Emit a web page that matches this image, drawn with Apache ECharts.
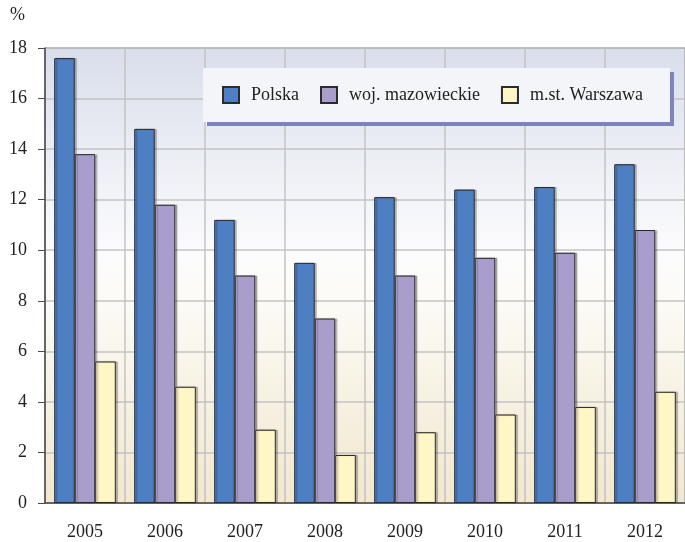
<!doctype html>
<html>
<head>
<meta charset="utf-8">
<title>Polska / woj. mazowieckie / m.st. Warszawa</title>
<script src="https://cdn.jsdelivr.net/npm/echarts@6/dist/echarts.min.js"></script>
<style>
  html, body { margin: 0; padding: 0; background: #fff; }
  #chart { width: 685px; height: 542px; }
</style>
</head>
<body>
<div id="chart"></div>
<script>
var years = ['2005', '2006', '2007', '2008', '2009', '2010', '2011', '2012'];
var polska = [17.6, 14.8, 11.2, 9.5, 12.1, 12.4, 12.5, 13.4];
var mazowieckie = [13.8, 11.8, 9.0, 7.3, 9.0, 9.7, 9.9, 10.8];
var warszawa = [5.6, 4.6, 2.9, 1.9, 2.8, 3.5, 3.8, 4.4];
var seriesNames = ['Polska', 'woj. mazowieckie', 'm.st. Warszawa'];
var seriesColors = ['#4f7fc3', '#a99ecb', '#fff6c6'];

var serif = '"Liberation Serif", "DejaVu Serif", serif';
var chart = echarts.init(document.getElementById('chart'));

function makeBar(name, data, color) {
	return {
		name: name,
		type: 'bar',
		data: data,
		barGap: 0,
		barCategoryGap: '23%',
		itemStyle: {
			color: color,
			borderColor: '#2b2b2b',
			borderWidth: 1,
			shadowColor: 'rgba(0,0,0,0.25)',
			shadowOffsetX: 2,
			shadowOffsetY: 0,
			shadowBlur: 1
		}
	};
}

chart.setOption({
	animation: false,
	backgroundColor: '#ffffff',
	grid: {
		left: 45,
		right: 0,
		top: 48,
		bottom: 39,
		show: true,
		borderColor: '#5a5a5a',
		borderWidth: 1,
		backgroundColor: new echarts.graphic.LinearGradient(0, 0, 0, 1, [
			{ offset: 0, color: '#d9deeb' },
			{ offset: 0.45, color: '#fcfcfd' },
			{ offset: 0.55, color: '#fcfbf6' },
			{ offset: 1, color: '#f2e7cf' }
		])
	},
	legend: {
		left: 203,
		top: 68,
		itemWidth: 16,
		itemHeight: 16,
		itemGap: 21,
		padding: [18, 27, 18, 19],
		backgroundColor: '#f4f5f9',
		shadowColor: '#7b85bd',
		shadowBlur: 0,
		shadowOffsetX: 4,
		shadowOffsetY: 4,
		icon: 'rect',
		textStyle: {
			fontFamily: serif,
			fontSize: 18,
			color: '#222',
			padding: [0, 0, 0, 7]
		},
		data: seriesNames
	},
	xAxis: {
		type: 'category',
		data: years,
		axisLine: { show: true, lineStyle: { color: '#4a4a4a', width: 1.5 } },
		axisTick: { show: false },
		axisLabel: {
			margin: 20,
			fontFamily: serif,
			fontSize: 18,
			color: '#222'
		},
		splitLine: { show: true, lineStyle: { color: '#c3c3c3', width: 1.5 } }
	},
	yAxis: {
		type: 'value',
		min: 0,
		max: 18,
		interval: 2,
		name: '%',
		nameLocation: 'end',
		nameGap: 24,
		nameTextStyle: {
			fontFamily: serif,
			fontSize: 18,
			color: '#222',
			align: 'right',
			padding: [0, 20, 0, 0]
		},
		axisLine: { show: true, lineStyle: { color: '#4a4a4a', width: 1.5 } },
		axisTick: { show: true, inside: false, length: 7, lineStyle: { color: '#4a4a4a' } },
		axisLabel: {
			margin: 18,
			fontFamily: serif,
			fontSize: 18,
			color: '#222'
		},
		splitLine: { show: true, lineStyle: { color: '#c3c3c3', width: 1.5 } }
	},
	series: [
		makeBar(seriesNames[0], polska, seriesColors[0]),
		makeBar(seriesNames[1], mazowieckie, seriesColors[1]),
		makeBar(seriesNames[2], warszawa, seriesColors[2])
	]
});
</script>
</body>
</html>
